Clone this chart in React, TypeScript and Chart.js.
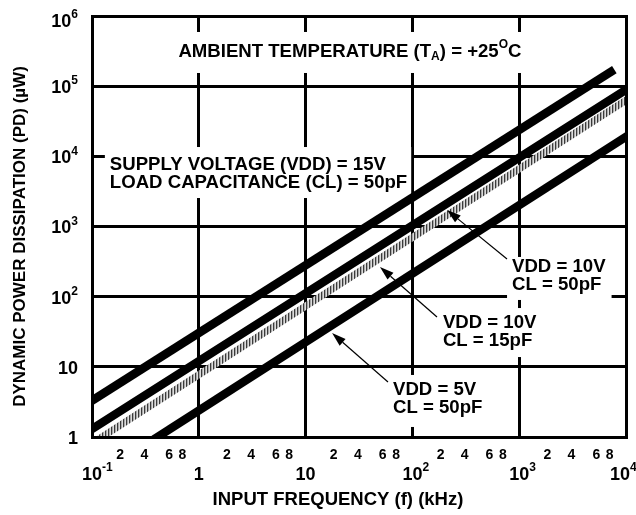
import React, { useEffect, useRef } from 'react';
import { Chart, registerables } from 'chart.js';

Chart.register(...registerables);

// ---------- data ----------
const xMin = 0.1;
const xMax = 10000;
const yMin = 1;
const yMax = 1000000;

const xDecades = [0.1, 1, 10, 100, 1000, 10000];
const xDecadeLabels = ['10^{-1}', '1', '10', '10^{2}', '10^{3}', '10^{4}'];
const xMinorMultipliers = [2, 4, 6, 8];
const xMinorLabels = ['2', '4', '6', '8'];
const yDecades = [1, 10, 100, 1000, 10000, 100000, 1000000];
const yDecadeLabels = ['1', '10', '10^{2}', '10^{3}', '10^{4}', '10^{5}', '10^{6}'];

const seriesNames = ['VDD = 15V, CL = 50pF', 'VDD = 10V, CL = 50pF', 'VDD = 10V, CL = 15pF', 'VDD = 5V, CL = 50pF'];
const vdd15cl50 = [{ x: 0.1, y: 3.3 }, { x: 7200, y: 160000 }];
const vdd10cl50 = [{ x: 0.1, y: 1.3 }, { x: 10000, y: 89000 }];
const vdd10cl15 = [{ x: 0.124, y: 1 }, { x: 10000, y: 63000 }];
const vdd5cl50 = [{ x: 0.41, y: 1 }, { x: 10000, y: 19000 }];

const xTitle = 'INPUT FREQUENCY (f) (kHz)';
const yTitle = 'DYNAMIC POWER DISSIPATION (PD) (µW)';

const ambientText = ['AMBIENT TEMPERATURE (T_{A}) = +25^{O}C'];
const supplyText = ['SUPPLY VOLTAGE (VDD) = 15V', 'LOAD CAPACITANCE (CL) = 50pF'];
const label10v50Text = ['VDD = 10V', 'CL = 50pF'];
const label10v15Text = ['VDD = 10V', 'CL = 15pF'];
const label5v50Text = ['VDD = 5V', 'CL = 50pF'];

// annotation anchors (data coordinates) and white-box paddings
const annotations = [
  { lines: ambientText, x: 26.0, y: 307000, align: 'center', pad: [8, 20, 8, 21] },
  { lines: supplyText, x: 0.147, y: 7520, align: 'left', pad: [5, 18, 4, 15] },
  { lines: label10v50Text, x: 857, y: 265, align: 'left', pad: [5, 10, 6, 15] },
  { lines: label10v15Text, x: 193, y: 42.1, align: 'left', pad: [5, 15, 6, 16] },
  { lines: label5v50Text, x: 65.8, y: 4.68, align: 'left', pad: [5, 15, 6, 19] },
];

const arrows = [
  { from: { x: 769, y: 344 }, to: { x: 211, y: 1718 } },
  { from: { x: 170, y: 51.3 }, to: { x: 49.7, y: 264.7 } },
  { from: { x: 59.1, y: 6.08 }, to: { x: 17.7, y: 30.3 } },
];

// ---------- drawing helpers ----------
const FONT = '"Liberation Sans", Arial, Helvetica, sans-serif';
const TICK = 18;
const NOTE = 18.6;
const SMALL = 12;
const LINE_GAP = 18;
const MINOR_NUDGE = [-4, -12, -6, -6];

type Seg = { t: string; k: 'n' | 'sup' | 'sub' };

function parseRich(s: string): Seg[] {
  const segs: Seg[] = [];
  const re = /\^\{([^}]*)\}|_\{([^}]*)\}/g;
  let last = 0;
  let m: RegExpExecArray | null;
  while ((m = re.exec(s))) {
    if (m.index > last) segs.push({ t: s.slice(last, m.index), k: 'n' });
    if (m[1] !== undefined) segs.push({ t: m[1], k: 'sup' });
    else segs.push({ t: m[2], k: 'sub' });
    last = re.lastIndex;
  }
  if (last < s.length) segs.push({ t: s.slice(last), k: 'n' });
  return segs;
}

function segFont(k: string, size: number) {
  return `bold ${k === 'n' ? size : SMALL}px ${FONT}`;
}

function richWidth(ctx: CanvasRenderingContext2D, segs: Seg[], size: number) {
  let w = 0;
  for (const sg of segs) {
    ctx.font = segFont(sg.k, size);
    w += ctx.measureText(sg.t).width;
  }
  return w;
}

function drawRich(ctx: CanvasRenderingContext2D, segs: Seg[], x: number, y: number, size: number) {
  let cx = x;
  ctx.textAlign = 'left';
  ctx.textBaseline = 'middle';
  for (const sg of segs) {
    ctx.font = segFont(sg.k, size);
    const dy = sg.k === 'sup' ? -7 : sg.k === 'sub' ? 5 : 0;
    ctx.fillText(sg.t, cx, y + dy);
    cx += ctx.measureText(sg.t).width;
  }
}

const annotationPlugin = {
  id: 'annotationPlugin',
  beforeDatasetsDraw(chart: any) {
    const ctx: CanvasRenderingContext2D = chart.ctx;
    const xs = chart.scales.x;
    const ys = chart.scales.y;
    ctx.save();
    for (const a of annotations) {
      const px = xs.getPixelForValue(a.x);
      const py = ys.getPixelForValue(a.y);
      const parsed = a.lines.map(parseRich);
      const widths = parsed.map((p) => richWidth(ctx, p, NOTE));
      const maxW = Math.max(...widths);
      const left = a.align === 'center' ? px - maxW / 2 : px;
      const lastY = py + LINE_GAP * (a.lines.length - 1);
      ctx.fillStyle = '#fff';
      ctx.fillRect(left - a.pad[0], py - a.pad[1], maxW + a.pad[0] + a.pad[2], lastY - py + a.pad[1] + a.pad[3]);
      ctx.fillStyle = '#000';
      parsed.forEach((p, i) => {
        const lx = a.align === 'center' ? px - widths[i] / 2 : px;
        drawRich(ctx, p, lx, py + i * LINE_GAP, NOTE);
      });
    }
    ctx.restore();
  },
  afterDatasetsDraw(chart: any) {
    const ctx: CanvasRenderingContext2D = chart.ctx;
    const xs = chart.scales.x;
    const ys = chart.scales.y;
    const area = chart.chartArea;
    ctx.save();
    // frame
    ctx.strokeStyle = '#000';
    ctx.lineWidth = 3;
    ctx.strokeRect(Math.round(area.left) + 0.5, Math.round(area.top) + 0.5, Math.round(area.right - area.left), Math.round(area.bottom - area.top));
    // arrows
    ctx.fillStyle = '#000';
    ctx.lineWidth = 1.2;
    for (const ar of arrows) {
      const x1 = xs.getPixelForValue(ar.from.x);
      const y1 = ys.getPixelForValue(ar.from.y);
      const x2 = xs.getPixelForValue(ar.to.x);
      const y2 = ys.getPixelForValue(ar.to.y);
      const ang = Math.atan2(y2 - y1, x2 - x1);
      const L = 14;
      const H = 4.5;
      const bx = x2 - L * Math.cos(ang);
      const by = y2 - L * Math.sin(ang);
      ctx.beginPath();
      ctx.moveTo(x1, y1);
      ctx.lineTo(bx, by);
      ctx.stroke();
      ctx.beginPath();
      ctx.moveTo(x2, y2);
      ctx.lineTo(bx + H * Math.sin(ang), by - H * Math.cos(ang));
      ctx.lineTo(bx - H * Math.sin(ang), by + H * Math.cos(ang));
      ctx.closePath();
      ctx.fill();
    }
    ctx.restore();
  },
  afterDraw(chart: any) {
    const ctx: CanvasRenderingContext2D = chart.ctx;
    const xs = chart.scales.x;
    const ys = chart.scales.y;
    const area = chart.chartArea;
    const W = chart.width;
    ctx.save();
    ctx.fillStyle = '#000';
    // y tick labels, right aligned
    yDecades.forEach((v, i) => {
      const py = ys.getPixelForValue(v);
      const segs = parseRich(yDecadeLabels[i]);
      const w = richWidth(ctx, segs, TICK);
      const cy = Math.max(py + 2, area.top + 6);
      drawRich(ctx, segs, area.left - 14 - w, cy, TICK);
    });
    // x decade labels: base centred at grid line, exponent hanging right
    xDecades.forEach((v, i) => {
      const px = xs.getPixelForValue(v);
      const segs = parseRich(xDecadeLabels[i]);
      ctx.font = `bold ${TICK}px ${FONT}`;
      const bw = ctx.measureText(segs[0].t).width;
      let left = px - bw / 2;
      if (left + bw > W - 6) left = W - 6 - bw;
      drawRich(ctx, segs, left, area.bottom + 38, TICK);
    });
    // x minor labels
    ctx.font = `bold 14px ${FONT}`;
    ctx.textAlign = 'center';
    ctx.textBaseline = 'middle';
    xDecades.slice(0, -1).forEach((d) => {
      xMinorMultipliers.forEach((m, j) => {
        const px = xs.getPixelForValue(d * m) + MINOR_NUDGE[j];
        ctx.fillText(xMinorLabels[j], px, area.bottom + 18);
      });
    });
    // axis titles
    ctx.font = `bold 18.5px ${FONT}`;
    ctx.fillText(xTitle, (area.left + area.right) / 2 - 21, area.bottom + 63);
    ctx.font = `bold 17px ${FONT}`;
    ctx.translate(20, (area.top + area.bottom) / 2 + 10);
    ctx.rotate(-Math.PI / 2);
    ctx.fillText(yTitle, 0, 0);
    ctx.restore();
  },
};

export default function App() {
  const ref = useRef<HTMLCanvasElement | null>(null);
  useEffect(() => {
    document.body.style.margin = '0';
    const canvas = ref.current;
    if (!canvas) return;
    const ctx = canvas.getContext('2d')!;

    const pc = document.createElement('canvas');
    pc.width = 3;
    pc.height = 1;
    const pctx = pc.getContext('2d')!;
    pctx.fillStyle = '#3a3a3a';
    pctx.fillRect(0, 0, 1, 1);
    pctx.fillStyle = '#a8a8a8';
    pctx.fillRect(1, 0, 1, 1);
    pctx.fillStyle = '#dcdcdc';
    pctx.fillRect(2, 0, 1, 1);
    const hatch = ctx.createPattern(pc, 'repeat');

    const common = { showLine: true, pointRadius: 0, borderCapStyle: 'square', clip: 0, fill: false };
    const chart = new Chart(canvas, {
      type: 'scatter',
      data: {
        datasets: [
          { ...common, label: seriesNames[0], data: vdd15cl50, borderColor: '#000', borderWidth: 8.5 },
          { ...common, label: seriesNames[1], data: vdd10cl50, borderColor: '#000', borderWidth: 8.5 },
          { ...common, label: seriesNames[2], data: vdd10cl15, borderColor: hatch as any, borderWidth: 7 },
          { ...common, label: seriesNames[3], data: vdd5cl50, borderColor: '#000', borderWidth: 8.5 },
        ] as any,
      },
      options: {
        animation: false,
        responsive: false,
        devicePixelRatio: 1,
        layout: { padding: { top: 16, right: 10, left: 0, bottom: 0 } },
        plugins: { legend: { display: false }, tooltip: { enabled: false } },
        scales: {
          x: {
            type: 'logarithmic',
            min: xMin,
            max: xMax,
            afterBuildTicks: (s: any) => {
              s.ticks = xDecades.map((v) => ({ value: v }));
            },
            afterFit: (s: any) => {
              s.height = 78;
            },
            ticks: { display: false },
            grid: { color: '#000', lineWidth: 3, drawTicks: false },
            border: { display: false },
          },
          y: {
            type: 'logarithmic',
            min: yMin,
            max: yMax,
            afterBuildTicks: (s: any) => {
              s.ticks = yDecades.map((v) => ({ value: v }));
            },
            afterFit: (s: any) => {
              s.width = 92;
            },
            ticks: { display: false },
            grid: { color: '#000', lineWidth: 3, drawTicks: false },
            border: { display: false },
          },
        },
      } as any,
      plugins: [annotationPlugin],
    });
    return () => chart.destroy();
  }, []);
  return <canvas ref={ref} width={636} height={515} style={{ display: 'block' }} />;
}
